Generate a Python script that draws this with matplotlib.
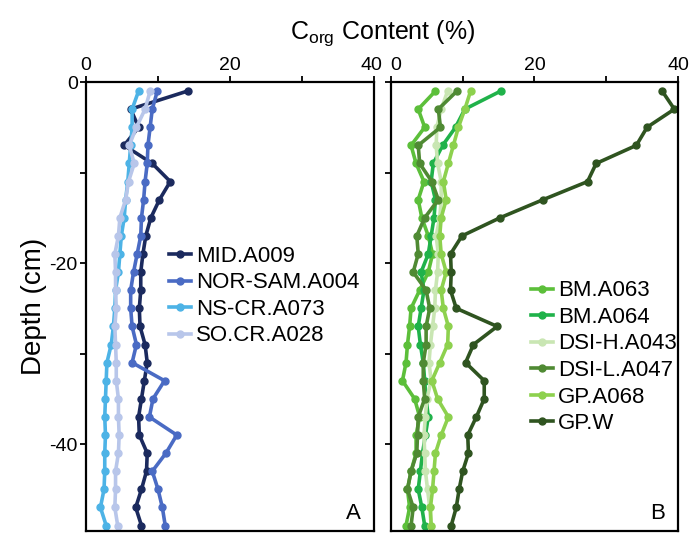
import numpy as np
import matplotlib
matplotlib.use("Agg")
import matplotlib.pyplot as plt
from matplotlib.transforms import ScaledTranslation

plt.rcParams['font.family'] = ['Liberation Sans', 'DejaVu Sans']
plt.rcParams['axes.unicode_minus'] = False

# sample depths (cm)
depth = np.arange(-1, -50, -2)

# panel A
mid_a009 = [14.1, 6.2, 7.3, 5.3, 9.2, 11.7, 10.2, 9.0, 8.3, 7.9, 7.6, 7.6, 7.4,
            7.5, 8.2, 8.5, 8.1, 7.7, 7.3, 7.4, 8.5, 8.4, 7.7, 6.9, 7.7]
nor_sam_a004 = [9.9, 9.2, 8.9, 8.6, 8.5, 8.2, 8.0, 7.7, 7.6, 7.1, 6.6, 6.2, 6.2,
                6.4, 7.0, 6.4, 10.9, 9.3, 8.8, 12.6, 11.1, 9.2, 10.0, 10.6, 11.0]
ns_cr_a073 = [7.3, 6.4, 6.4, 6.2, 6.0, 5.8, 5.5, 5.3, 4.9, 4.7, 4.5, 4.1, 4.0,
              3.8, 3.5, 2.9, 2.8, 2.7, 2.6, 2.7, 2.6, 2.6, 2.5, 2.0, 2.8]
so_cr_a028 = [8.9, 8.2, 7.0, 6.0, 6.7, 5.9, 5.5, 4.7, 4.5, 4.0, 4.1, 4.1, 4.2,
              4.0, 4.1, 4.2, 4.2, 4.5, 4.5, 4.6, 4.5, 4.1, 4.1, 4.0, 4.4]

# panel B
bm_a063 = [6.2, 3.8, 4.7, 2.8, 3.5, 4.6, 3.8, 4.3, 5.2, 5.8, 5.2, 4.0, 2.8,
           2.6, 2.3, 2.1, 1.6, 3.3, 4.0, 3.5, 3.5, 2.8, 2.3, 2.6, 2.1]
bm_a064 = [15.3, 10.3, 9.0, 7.2, 5.9, 5.6, 6.2, 6.0, 5.6, 5.2, 4.2, 4.6, 4.2,
           3.8, 4.1, 4.5, 4.7, 4.9, 5.2, 4.8, 4.4, 4.1, 3.8, 4.3, 4.7]
dsi_h_a043 = [7.9, 7.0, 6.4, 6.3, 6.5, 7.0, 7.0, 6.8, 6.3, 6.6, 6.5, 6.2, 6.1,
              5.8, 5.5, 5.3, 5.6, 5.0, 4.8, 4.6, 4.7, 4.8, 5.1, 5.4, 5.6]
dsi_l_a047 = [9.2, 6.6, 6.9, 3.8, 4.0, 5.7, 6.6, 4.7, 3.6, 3.8, 3.1, 4.9, 5.4,
              4.9, 4.9, 4.5, 4.5, 4.7, 3.8, 3.7, 3.6, 2.8, 2.3, 3.1, 2.8]
gp_a068 = [11.1, 10.3, 9.4, 8.7, 8.0, 7.3, 7.7, 7.0, 6.8, 7.0, 7.7, 7.0, 7.3,
           8.0, 7.9, 6.8, 5.7, 6.5, 8.0, 7.0, 6.2, 6.0, 5.8, 5.5, 5.6]
gp_w = [37.8, 39.5, 35.7, 34.2, 28.6, 27.4, 21.2, 15.2, 9.9, 8.3, 8.4, 8.3, 9.1,
        14.8, 11.5, 10.4, 13.0, 13.0, 11.9, 10.7, 10.8, 10.0, 9.5, 9.1, 8.4]

series_a = [("MID.A009", mid_a009, "#1b2a5e"),
            ("NOR-SAM.A004", nor_sam_a004, "#4a6bc4"),
            ("NS-CR.A073", ns_cr_a073, "#4db3e6"),
            ("SO.CR.A028", so_cr_a028, "#b8c6ea")]
series_b = [("BM.A063", bm_a063, "#5cbf3a"),
            ("BM.A064", bm_a064, "#20b24a"),
            ("DSI-H.A043", dsi_h_a043, "#c9e6b3"),
            ("DSI-L.A047", dsi_l_a047, "#4f8a33"),
            ("GP.A068", gp_a068, "#8dd14e"),
            ("GP.W", gp_w, "#2f5420")]

fig = plt.figure(figsize=(6.91, 5.33), dpi=100)
ax_a = fig.add_axes([0.1245, 0.00375, 0.4168, 0.8424])
ax_b = fig.add_axes([0.5658, 0.00375, 0.4153, 0.8424])

for ax, series, letter, leg_anchor in [(ax_a, series_a, "A", (0.25, 0.66)),
                                       (ax_b, series_b, "B", (0.45, 0.583))]:
    for name, vals, col in series:
        ax.plot(vals, depth, '-o', color=col, lw=2.6, ms=5, label=name)
    ax.set_xlim(0, 40)
    ax.set_ylim(-49.6, 0)
    ax.xaxis.tick_top()
    ax.set_xticks([0, 10, 20, 30, 40])
    ax.set_xticklabels(['0', '', '20', '', '40'])
    ax.set_yticks([0, -10, -20, -30, -40])
    ax.tick_params(direction='out', length=4, width=1.3, labelsize=14, pad=2)
    for s in ax.spines.values():
        s.set_linewidth(1.6)
    ax.legend(loc='upper left', bbox_to_anchor=leg_anchor, frameon=False,
              fontsize=16, handlelength=1.0, handletextpad=0.2,
              labelspacing=0.25, borderpad=0, numpoints=1)
    ax.text(0.93, 0.04, letter, transform=ax.transAxes, fontsize=16,
            ha='center', va='center')

ax_a.set_yticklabels(['0', '', '-20', '', '-40'])
ax_a.set_ylabel("Depth (cm)", fontsize=20, labelpad=2)
ax_b.set_yticklabels([])

# nudge the neighbouring "40" and "0" labels apart
lab_a = ax_a.get_xticklabels()[-1]
lab_a.set_transform(lab_a.get_transform() + ScaledTranslation(-3 / 100, 0, fig.dpi_scale_trans))
lab_b = ax_b.get_xticklabels()[0]
lab_b.set_transform(lab_b.get_transform() + ScaledTranslation(5 / 100, 0, fig.dpi_scale_trans))

fig.text(0.554, 0.937, r"C$_{\mathregular{org}}$ Content (%)", fontsize=18,
         ha='center', va='center')

fig.savefig("out.png", dpi=100)
